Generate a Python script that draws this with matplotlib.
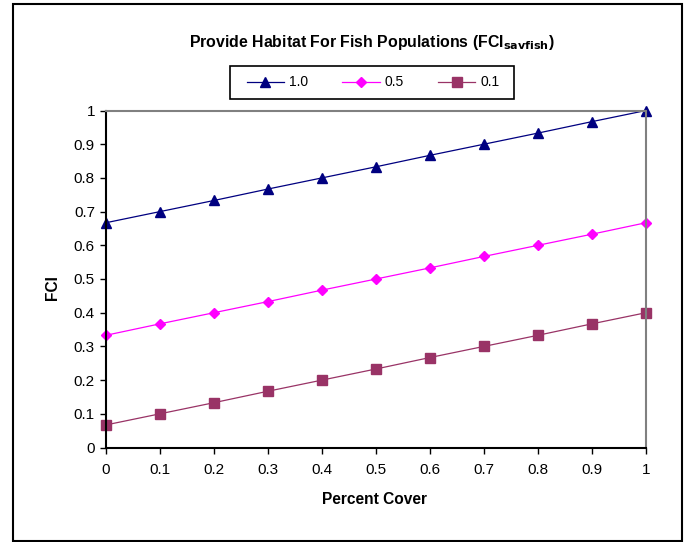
import matplotlib
matplotlib.use("Agg")
import matplotlib.pyplot as plt
from matplotlib.patches import Rectangle

plt.rcParams['font.family'] = ['Liberation Sans', 'DejaVu Sans']

percent_cover = [0, 0.1, 0.2, 0.3, 0.4, 0.5, 0.6, 0.7, 0.8, 0.9, 1.0]
fci_10 = [0.667, 0.700, 0.733, 0.767, 0.800, 0.833, 0.867, 0.900, 0.933, 0.967, 1.000]
fci_05 = [0.333, 0.367, 0.400, 0.433, 0.467, 0.500, 0.533, 0.567, 0.600, 0.633, 0.667]
fci_01 = [0.067, 0.100, 0.133, 0.167, 0.200, 0.233, 0.267, 0.300, 0.333, 0.367, 0.400]
series_labels = ['1.0', '0.5', '0.1']
x_ticks = [0, 0.1, 0.2, 0.3, 0.4, 0.5, 0.6, 0.7, 0.8, 0.9, 1]
y_ticks = [0, 0.1, 0.2, 0.3, 0.4, 0.5, 0.6, 0.7, 0.8, 0.9, 1]
tick_labels = ['0', '0.1', '0.2', '0.3', '0.4', '0.5', '0.6', '0.7', '0.8', '0.9', '1']

W, H = 684, 542
fig = plt.figure(figsize=(W / 100, H / 100), dpi=100)
ax = fig.add_axes([106 / W, 1 - 447.5 / H, (646 - 106) / W, (447.5 - 110.5) / H])

ax.plot(percent_cover, fci_10, color='#000080', marker='^', markersize=7, lw=0.9, label=series_labels[0])
ax.plot(percent_cover, fci_05, color='#FF00FF', marker='D', markersize=4.8, lw=0.9, label=series_labels[1])
ax.plot(percent_cover, fci_01, color='#993366', marker='s', markersize=6.5, lw=0.9, label=series_labels[2])

ax.set_xlim(0, 1)
ax.set_ylim(0, 1)
ax.set_xticks(x_ticks)
ax.set_xticklabels(tick_labels)
ax.set_yticks(y_ticks)
ax.set_yticklabels(tick_labels)
ax.tick_params(direction='out', length=4, width=1, labelsize=11, colors='black', pad=4)
ax.tick_params(axis='x', pad=7)
for s in ['top', 'right']:
    ax.spines[s].set_color('#808080')
    ax.spines[s].set_linewidth(1.5)
for s in ['left', 'bottom']:
    ax.spines[s].set_color('black')
    ax.spines[s].set_linewidth(1.5)
for line in ax.get_lines():
    line.set_clip_on(False)

fig.text(375 / W, 1 - 499 / H, 'Percent Cover', ha='center', va='center',
         fontsize=11.2, fontweight='bold')
fig.text(53 / W, 1 - 288 / H, 'FCI', ha='center', va='center', rotation=90,
         fontsize=11.2, fontweight='bold')

fig.text(372 / W, 1 - 42 / H, r'Provide Habitat For Fish Populations (FCI$_{\mathbf{savfish}}$)',
         ha='center', va='center', fontsize=11.4, fontweight='bold')

leg = fig.legend(loc='center', bbox_to_anchor=(373 / W, 1 - 82.5 / H), ncol=3, frameon=False,
                 fontsize=10, handlelength=2.7, columnspacing=2.45, borderpad=0.3,
                 handletextpad=0.35)

fig.add_artist(Rectangle((230 / W, 1 - 99 / H), (514 - 230) / W, (99 - 66) / H,
                         transform=fig.transFigure, fill=False, edgecolor='black', lw=1.2))
fig.add_artist(Rectangle((12.5 / W, 1 - 541 / H), (682 - 12.5) / W, (541 - 4) / H,
                         transform=fig.transFigure, fill=False, edgecolor='black', lw=1.5))

fig.savefig('out.png', dpi=100)
